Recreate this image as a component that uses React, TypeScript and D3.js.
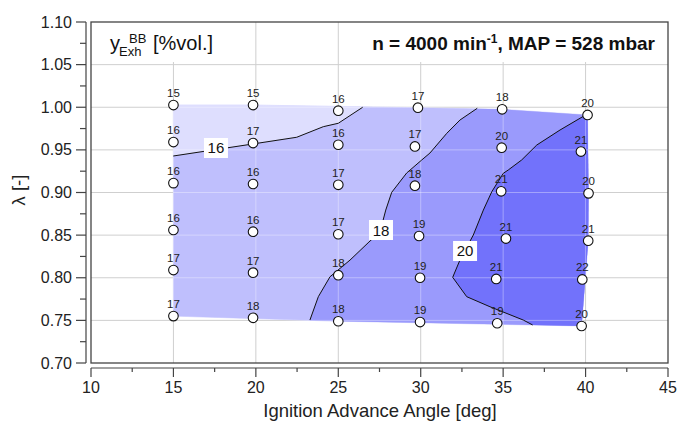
import * as d3 from "d3";

// measured points: ignition angle [deg], lambda [-], exhaust value [%vol.]
const pointAngle = [
  15, 15, 15, 15, 15, 15,
  19.83, 19.83, 19.83, 19.83, 19.83, 19.83,
  25.0, 25.0, 25.0, 25.0, 25.0, 25.0,
  29.83, 29.65, 29.65, 29.9, 29.96, 29.96,
  34.94, 34.91, 34.88, 35.17, 34.58, 34.64,
  40.12, 39.72, 40.18, 40.16, 39.8, 39.76,
];
const pointLambda = [
  1.0026, 0.9592, 0.911, 0.856, 0.809, 0.755,
  1.0026, 0.958, 0.91, 0.854, 0.806, 0.753,
  0.996, 0.956, 0.909, 0.851, 0.803, 0.749,
  0.9995, 0.954, 0.908, 0.849, 0.8, 0.748,
  0.9976, 0.9526, 0.9014, 0.846, 0.7986, 0.7466,
  0.991, 0.948, 0.899, 0.8435, 0.798, 0.7434,
];
const pointValue = [
  15, 16, 16, 16, 17, 17,
  15, 17, 16, 16, 17, 18,
  16, 16, 17, 17, 18, 18,
  17, 17, 18, 19, 19, 19,
  18, 20, 21, 21, 21, 19,
  20, 21, 20, 21, 22, 20,
];

// contour lines: [angle, lambda]
const contour16: [number, number][] = [
  [14.99, 0.9428], [19.81, 0.9569], [22.48, 0.9648], [24.09, 0.9772], [25.0, 0.9812], [26.48, 1.0],
];
const contour18: [number, number][] = [
  [23.28, 0.7504], [23.79, 0.7778], [24.5, 0.8012], [25.71, 0.8207], [26.86, 0.8419], [27.53, 0.8536],
  [27.88, 0.8794], [28.24, 0.9002], [29.15, 0.9229], [30.06, 0.9381], [30.56, 0.9463], [31.58, 0.9694],
  [32.38, 0.985], [33.43, 0.9988],
];
const contour20: [number, number][] = [
  [36.79, 0.7446], [36.22, 0.7504], [34.2, 0.766], [32.79, 0.7778], [31.94, 0.8005], [32.38, 0.8208],
  [33.19, 0.8501], [33.8, 0.8794], [34.31, 0.9009], [35.01, 0.9225], [35.31, 0.9264], [36.12, 0.9381],
  [37.04, 0.9557], [38.45, 0.9733], [40.07, 0.9917],
];
const contourLabels = ["16", "18", "20"];
const contourLabelAngle = [17.58, 27.59, 32.69];
const contourLabelLambda = [0.9522, 0.856, 0.8314];

const bandColors = ["#dedefe", "#bfbffd", "#9a9afc", "#7272fb"];

const xTicks = [10, 15, 20, 25, 30, 35, 40, 45];
const yTicks = [0.7, 0.75, 0.8, 0.85, 0.9, 0.95, 1.0, 1.05, 1.1];

export default function App() {
  const width = 678,
    height = 423;
  const left = 91,
    right = 668,
    top = 22,
    bottom = 363;

  const x = d3.scaleLinear().domain([10, 45]).range([left, right]);
  const y = d3.scaleLinear().domain([0.7, 1.1]).range([bottom, top]);

  const pts: [number, number][] = pointAngle.map((a, i) => [x(a), y(pointLambda[i])]);
  const hull = d3.polygonHull(pts) || [];
  const hullPath = "M" + hull.map((p) => p.join(",")).join("L") + "Z";

  const line = d3
    .line<[number, number]>()
    .x((d) => x(d[0]))
    .y((d) => y(d[1]));

  // band polygons (clipped by the hull)
  const band16: [number, number][] = [[10, 0.9428], ...contour16, [27.5, 1.1], [50, 1.1], [50, 0.6], [10, 0.6]];
  const band18: [number, number][] = [[22.0, 0.6], ...contour18, [34.5, 1.1], [50, 1.1], [50, 0.6]];
  const band20: [number, number][] = [[37.5, 0.6], ...contour20, [40.5, 1.1], [50, 1.1], [50, 0.6]];

  const minorX = d3.range(10, 45.01, 2.5);
  const minorY = d3.range(0.7, 1.1001, 0.025);

  const font = "'Liberation Sans', Arial, sans-serif";

  return (
    <svg width={width} height={height} style={{ position: "absolute", left: 0, top: 0 }} fontFamily={font}>
      <defs>
        <clipPath id="hull">
          <path d={hullPath} />
        </clipPath>
      </defs>
      <rect width={width} height={height} fill="#fff" />

      {/* grid under fill */}
      <g stroke="#cfcfcf" strokeWidth={1}>
        {xTicks.slice(1, -1).map((t) => (
          <line key={"gx" + t} x1={x(t)} x2={x(t)} y1={top} y2={bottom} />
        ))}
        {yTicks.slice(1, -1).map((t) => (
          <line key={"gy" + t} x1={left} x2={right} y1={y(t)} y2={y(t)} />
        ))}
      </g>

      {/* filled bands */}
      <path d={hullPath} fill={bandColors[0]} stroke={bandColors[0]} strokeWidth={1} />
      <g clipPath="url(#hull)">
        <path d={line(band16) + "Z"} fill={bandColors[1]} />
        <path d={line(band18) + "Z"} fill={bandColors[2]} />
        <path d={line(band20) + "Z"} fill={bandColors[3]} />
        <g stroke="#fff" strokeOpacity={0.35} strokeWidth={1}>
          {xTicks.slice(1, -1).map((t) => (
            <line key={"wx" + t} x1={x(t)} x2={x(t)} y1={top} y2={bottom} />
          ))}
          {yTicks.slice(1, -1).map((t) => (
            <line key={"wy" + t} x1={left} x2={right} y1={y(t)} y2={y(t)} />
          ))}
        </g>
      </g>

      {/* contour lines */}
      <g fill="none" stroke="#111" strokeWidth={1}>
        <path d={line(contour16) || ""} />
        <path d={line(contour18) || ""} />
        <path d={line(contour20) || ""} />
      </g>
      {contourLabels.map((l, i) => (
        <g key={"cl" + l} transform={`translate(${x(contourLabelAngle[i])},${y(contourLabelLambda[i])})`}>
          <rect x={-12} y={-10} width={24} height={20} fill="#fff" />
          <text textAnchor="middle" dy={5.5} fontSize={15} fill="#111">
            {l}
          </text>
        </g>
      ))}

      {/* points */}
      {pts.map((p, i) => (
        <g key={"p" + i}>
          <circle cx={p[0]} cy={p[1]} r={4.8} fill="#fff" stroke="#111" strokeWidth={1.1} />
          <text x={p[0]} y={p[1] - 8} textAnchor="middle" fontSize={11.5} fill="#222">
            {pointValue[i]}
          </text>
        </g>
      ))}

      {/* header boxes */}
      <rect x={left} y={top} width={139} height={40} fill="#fff" />
      <rect x={350} y={top} width={right - 350} height={40} fill="#fff" />
      <text fontSize={20} fill="#111">
        <tspan x={110} y={50}>y</tspan>
        <tspan x={119} y={56} fontSize={13}>Exh</tspan>
        <tspan x={129} y={43} fontSize={13}>BB</tspan>
        <tspan x={153} y={50}>[%vol.]</tspan>
      </text>
      <text x={655} y={50} textAnchor="end" fontSize={19} fontWeight="bold" fill="#111">
        n = 4000 min
        <tspan dy={-7} fontSize={12}>-1</tspan>
        <tspan dy={7}>, MAP = 528 mbar</tspan>
      </text>

      {/* frame */}
      <rect x={left} y={top} width={right - left} height={bottom - top} fill="none" stroke="#444" strokeWidth={1.3} />

      {/* y axis */}
      <g stroke="#444" strokeWidth={1.2}>
        <line x1={86} x2={86} y1={top} y2={bottom} />
        {minorY.map((t, i) => (
          <line key={"ty" + i} x1={i % 2 === 0 ? 76 : 80} x2={86} y1={y(t)} y2={y(t)} />
        ))}
      </g>
      {yTicks.map((t) => (
        <text key={"ly" + t} x={72} y={y(t) + 5.5} textAnchor="end" fontSize={16} fill="#222">
          {d3.format(".2f")(t)}
        </text>
      ))}

      {/* x axis */}
      <g stroke="#444" strokeWidth={1.2}>
        <line x1={left} x2={right} y1={368} y2={368} />
        {minorX.map((t, i) => (
          <line key={"tx" + i} x1={x(t)} x2={x(t)} y1={368} y2={i % 2 === 0 ? 377 : 372} />
        ))}
      </g>
      {xTicks.map((t) => (
        <text key={"lx" + t} x={x(t)} y={393} textAnchor="middle" fontSize={16} fill="#222">
          {t}
        </text>
      ))}

      <text x={380} y={417} textAnchor="middle" fontSize={18.5} fill="#222">
        Ignition Advance Angle [deg]
      </text>
      <text transform="translate(25,190) rotate(-90)" textAnchor="middle" fontSize={18.5} fill="#222">
        λ [-]
      </text>
    </svg>
  );
}
